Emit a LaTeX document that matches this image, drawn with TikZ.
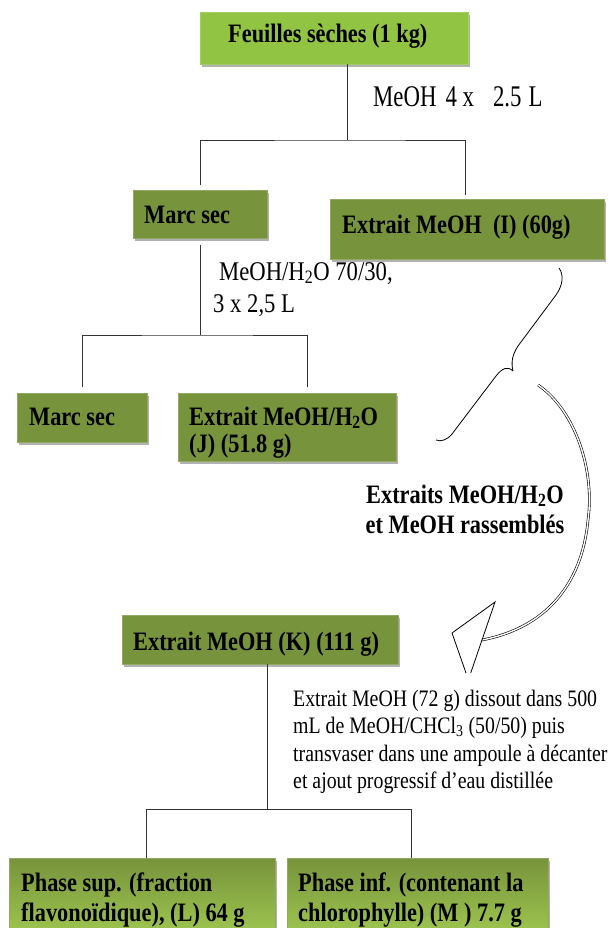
\documentclass[tikz,border=0pt]{standalone}
\usepackage{fontspec}
\setmainfont{Liberation Serif}[FakeStretch=0.84]
\newfontfamily\narrowserif{Liberation Serif}[FakeStretch=0.76]
\usetikzlibrary{shadows}
\definecolor{boxolive}{RGB}{119,147,60}
\definecolor{boxlight}{RGB}{146,196,68}
\definecolor{boxpale}{RGB}{160,200,80}
\tikzset{
  box/.style={rectangle, inner sep=0pt, outer sep=0pt, anchor=north west,
    fill=boxolive, draw=boxolive!80!white, line width=0.6pt,
    drop shadow={shadow xshift=1.5pt, shadow yshift=-3pt, opacity=0.3, fill=black}},
  topbox/.style={box, fill=boxlight, draw=boxlight!85!white},
  gradbox/.style={box, top color=boxolive, middle color=boxolive, bottom color=boxpale},
  lbl/.style={inner sep=0pt, anchor=base west, font=\fontsize{26.6}{28}\selectfont\bfseries},
  lblc/.style={inner sep=0pt, anchor=base, font=\fontsize{26.6}{28}\selectfont\bfseries},
  stepnote/.style={inner sep=0pt, anchor=base west, font=\fontsize{27}{28}\selectfont},
  bignote/.style={inner sep=0pt, anchor=base west, font=\narrowserif\fontsize{30}{30}\selectfont},
  para/.style={inner sep=0pt, anchor=base west, font=\fontsize{23.6}{27}\selectfont},
  conn/.style={draw=black!80, line width=0.8pt},
  curv/.style={draw=black, line width=0.8pt},
}
\begin{document}
\begin{tikzpicture}[x=1pt, y=-1pt]
\useasboundingbox (0,0) rectangle (612,928);
\clip (0,0) rectangle (612,928);

% boxes
\node[topbox, minimum width=268pt, minimum height=52pt] (A) at (200,12) {};
\node[box, minimum width=134pt, minimum height=48pt] (B) at (133,190) {};
\node[box, minimum width=274pt, minimum height=60pt] (C) at (330,199) {};
\node[box, minimum width=130pt, minimum height=49pt] (D) at (17,393) {};
\node[box, minimum width=218pt, minimum height=68pt] (E) at (178,393) {};
\node[box, minimum width=276pt, minimum height=49pt] (K) at (122,615) {};
\node[gradbox, minimum width=266pt, minimum height=80pt] (L) at (9,858) {};
\node[gradbox, minimum width=261pt, minimum height=80pt] (M) at (287,858) {};

% box texts
\node[lbl] (At) at (228,43) {Feuilles sèches (1 kg)};
\node[lbl] (Bt) at (144,223) {Marc sec};
\node[lbl] (Ct) at (342,233) {Extrait MeOH~ (I) (60g)};
\node[lbl] (Dt) at (29,425) {Marc sec};
\node[lbl] (Et1) at (189,425) {Extrait MeOH/H\textsubscript{2}O};
\node[lbl] (Et2) at (189,452) {(J) (51.8 g)};
\node[lbl] (Kt) at (133,650) {Extrait MeOH (K) (111 g)};
\node[lbl] (Lt1) at (21,891) {Phase sup. (fraction};
\node[lbl] (Lt2) at (21,921) {flavonoïdique), (L) 64 g};
\node[lbl] (Mt1) at (298,891) {Phase inf. (contenant la};
\node[lbl] (Mt2) at (298,921) {chlorophylle) (M ) 7.7 g};

% step notes
\node[bignote] (s1) at (373,107) {MeOH\hspace{9pt}4 x\hspace{19pt}2.5\hspace{7pt}L};
\node[stepnote] (s2a) at (219,280) {MeOH/H\textsubscript{2}O 70/30,};
\node[stepnote] (s2b) at (213,312) {3 x 2,5 L};
\node[lblc] (r1) at (465,503) {Extraits MeOH/H\textsubscript{2}O};
\node[lblc] (r2) at (465,533) {et MeOH rassemblés};
\node[para] (p1) at (293,706) {Extrait MeOH (72 g) dissout dans 500};
\node[para] (p2) at (293,733) {mL de MeOH/CHCl\textsubscript{3} (50/50) puis};
\node[para] (p3) at (293,761) {transvaser dans une ampoule à décanter};
\node[para] (p4) at (293,788) {et ajout progressif d’eau distillée};

% connectors
\coordinate (jA) at (347,140);
\coordinate (jB) at (200,335);
\coordinate (jK) at (267,809);
\draw[conn] (A.south -| jA) -- (jA);
\draw[conn] ([yshift=5pt]B.north) |- (jA) -| ([xshift=-2pt,yshift=4pt]C.north);
\draw[conn] ([yshift=-7pt]B.south) -- (jB);
\draw[conn] ([yshift=6pt]D.north) |- (jB) -| ([xshift=20pt,yshift=6pt]E.north);
\draw[conn] ([xshift=7pt]K.south) -- (jK);
\draw[conn] ([xshift=4pt]L.north) |- (jK) -| ([xshift=-6pt]M.north);

% curly brace
\draw[curv] (559,268) .. controls (564,275) and (563,285) .. (556,295)
  -- (518,346) .. controls (512,355) and (511,363) .. (513,371);
\draw[curv] (513,371) .. controls (508,366) and (502,368) .. (496,376)
  -- (452,434) .. controls (447,440) and (441,442) .. (436,440);

% curved arrow
\draw[draw=black, line width=0.6pt, double=white, double distance=1.4pt]
  (538,385) .. controls (575,410) and (595,470) .. (588,520)
  .. controls (582,585) and (545,628) .. (482,640);
\draw[curv, line join=miter] (466,673) -- (452,633) -- (495,602) -- (470.7,673);
\end{tikzpicture}
\end{document}
